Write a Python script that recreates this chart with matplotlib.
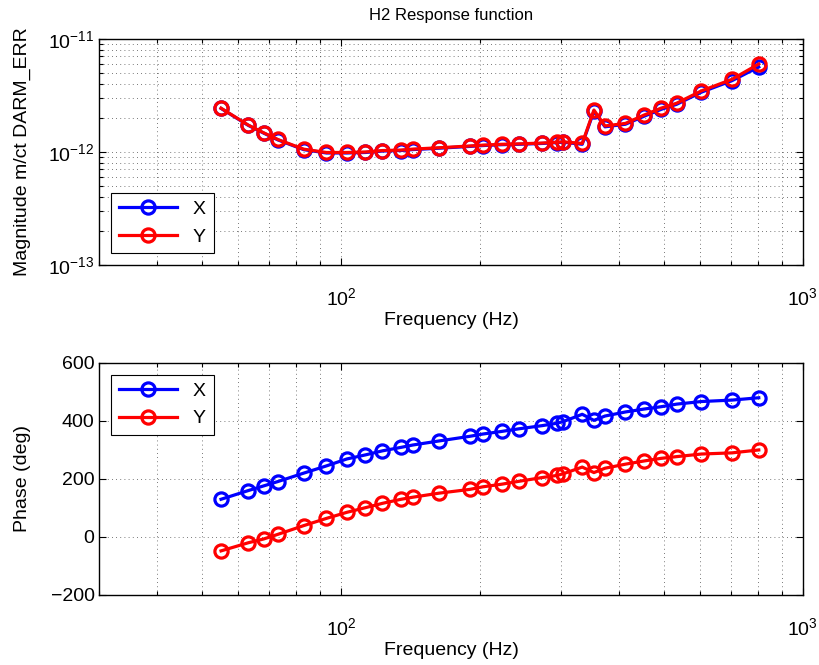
import matplotlib
matplotlib.use("Agg")
import matplotlib.pyplot as plt
from matplotlib.ticker import LogLocator, NullFormatter, MultipleLocator

plt.rcParams['font.family'] = ['Liberation Sans', 'DejaVu Sans']
plt.rcParams['mathtext.default'] = 'regular'

# measurement frequencies (Hz)
freq = [55, 63, 68, 73, 83, 93, 103, 113, 123, 135, 143, 163, 190, 203, 223,
        243, 273, 293, 303, 333, 353, 373, 413, 453, 493, 533, 603, 703, 803]

# magnitude, units of 1e-12 m/ct
mag_x = [2.43, 1.72, 1.47, 1.28, 1.05, 0.98, 0.98, 0.99, 1.02, 1.03, 1.05, 1.08,
         1.12, 1.14, 1.16, 1.17, 1.19, 1.21, 1.22, 1.17, 2.30, 1.67, 1.76, 2.07,
         2.38, 2.64, 3.38, 4.28, 5.65]
mag_y = [2.44, 1.73, 1.48, 1.29, 1.06, 0.99, 0.99, 1.00, 1.03, 1.04, 1.06, 1.09,
         1.13, 1.15, 1.17, 1.18, 1.20, 1.22, 1.23, 1.19, 2.35, 1.70, 1.79, 2.12,
         2.44, 2.70, 3.47, 4.40, 6.01]

# phase (deg)
phase_x = [130, 160, 176, 191, 220, 245, 269, 283, 297, 309, 317, 331, 347, 355,
           364, 373, 384, 392, 398, 423, 402, 417, 431, 441, 449, 458, 467, 472, 480]
phase_y = [-48, -20, -7, 9, 39, 64, 85, 101, 116, 130, 137, 151, 164, 173,
           182, 192, 205, 212, 218, 241, 222, 237, 251, 262, 271, 277, 286, 290, 300]

series = [('X', 'b', mag_x, phase_x), ('Y', 'r', mag_y, phase_y)]

fs = 14
line_kw = dict(linewidth=2.3, marker='o', markersize=9.5, markerfacecolor='none',
               markeredgewidth=2.3)
grid_kw = dict(linestyle=(0, (1, 4)), color='k', linewidth=0.6, alpha=0.7)

fig = plt.figure(figsize=(8.2, 6.65), dpi=100)
ax1 = fig.add_axes([0.1213, 0.6015, 0.8577, 0.3399])
ax2 = fig.add_axes([0.1213, 0.1053, 0.8577, 0.3489])

for name, c, m, p in series:
    ax1.plot(freq, [v * 1e-12 for v in m], color=c, label=name, **line_kw)
    ax2.plot(freq, p, color=c, label=name, **line_kw)

for ax in (ax1, ax2):
    ax.set_xscale('log')
    ax.set_xlim(30, 1000)
    ax.xaxis.set_minor_locator(LogLocator(base=10, subs=range(2, 10)))
    ax.xaxis.set_minor_formatter(NullFormatter())
    ax.tick_params(which='both', direction='in', top=True, right=True,
                   labelsize=fs, width=0.8)
    ax.tick_params(which='major', length=5)
    ax.tick_params(which='minor', length=3)
    ax.tick_params(axis='x', which='major', pad=16)
    ax.set_xlabel('Frequency (Hz)', fontsize=fs, labelpad=2)
    ax.yaxis.set_label_coords(-0.097, 0.5)
    for s in ax.spines.values():
        s.set_linewidth(1.0)

ax1.set_yscale('log')
ax1.set_ylim(1e-13, 1e-11)
ax1.yaxis.set_minor_formatter(NullFormatter())
ax1.grid(True, which='both', **grid_kw)
ax1.set_ylabel('Magnitude m/ct DARM_ERR', fontsize=fs)
ax1.set_title('H2 Response function', fontsize=12, pad=14)
ax1.legend(loc='lower left', fontsize=fs, fancybox=False, edgecolor='k',
           framealpha=1, handlelength=3.0, borderaxespad=0.6).get_frame().set_linewidth(0.8)

ax2.set_ylim(-200, 600)
ax2.yaxis.set_major_locator(MultipleLocator(200))
ax2.grid(True, which='major', **grid_kw)
ax2.xaxis.grid(True, which='minor', **grid_kw)
ax2.set_ylabel('Phase (deg)', fontsize=fs)
ax2.legend(loc='upper left', fontsize=fs, fancybox=False, edgecolor='k',
           framealpha=1, handlelength=3.0, borderaxespad=0.6).get_frame().set_linewidth(0.8)

fig.savefig('out.png', dpi=100)
